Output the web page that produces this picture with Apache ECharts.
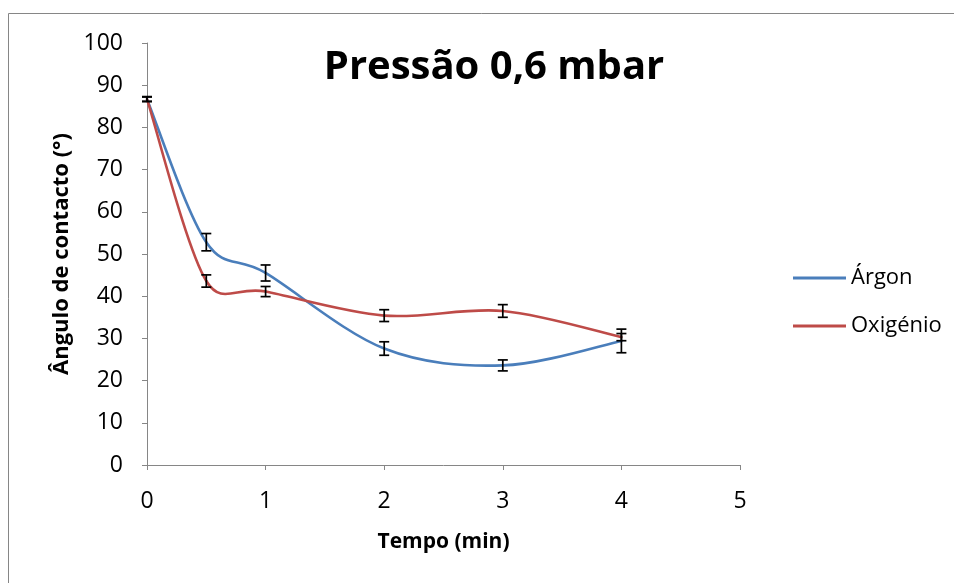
<!DOCTYPE html>
<html>
<head>
<meta charset="utf-8">
<script src="https://cdn.jsdelivr.net/npm/echarts@6/dist/echarts.min.js"></script>
<style>
  html, body { margin: 0; padding: 0; background: #fff; }
  #chart { width: 954px; height: 583px; }
</style>
</head>
<body>
<div id="chart"></div>
<script>
// Contact angle vs. plasma treatment time at 0.6 mbar
const tempo       = [0, 0.5, 1, 2, 3, 4];
const argon       = [86.7, 52.8, 45.5, 27.6, 23.6, 29.4];
const argonErr    = [0.6, 2.05, 1.9, 1.6, 1.3, 2.8];
const oxigenio    = [86.7, 43.6, 41.1, 35.4, 36.5, 30.3];
const oxigenioErr = [0.5, 1.45, 1.2, 1.4, 1.5, 0.85];
const xTicks = [0, 1, 2, 3, 4, 5];
const yTicks = [0, 10, 20, 30, 40, 50, 60, 70, 80, 90, 100];

const FONT = '"Open Sans", Lato, sans-serif';
const AXIS_COLOR = '#868686';
const BLUE = '#4A7EBB';
const RED = '#BE4B48';

function pairs(xs, ys) { return xs.map((x, i) => [x, ys[i]]); }
function errRows(xs, ys, es) { return xs.map((x, i) => [x, ys[i] - es[i], ys[i] + es[i]]); }

function errorBarItem(params, api) {
  const x = api.value(0);
  const lo = api.coord([x, api.value(1)]);
  const hi = api.coord([x, api.value(2)]);
  const half = 5;
  const style = { stroke: '#000', lineWidth: 1.7 };
  return {
    type: 'group',
    children: [
      { type: 'line', shape: { x1: lo[0], y1: lo[1], x2: hi[0], y2: hi[1] }, style },
      { type: 'line', shape: { x1: lo[0] - half, y1: lo[1], x2: lo[0] + half, y2: lo[1] }, style },
      { type: 'line', shape: { x1: hi[0] - half, y1: hi[1], x2: hi[0] + half, y2: hi[1] }, style }
    ]
  };
}

// Spreadsheet-style smoothed line: cubic Bezier segments whose tangent
// handles are (next - prev) / 6, limited to half of the segment length.
function smoothSegmentRenderer(xs, ys, color) {
  return function (params, api) {
    const i = params.dataIndex;
    if (i >= xs.length - 1) return null;
    const pt = k => {
      const j = Math.max(0, Math.min(xs.length - 1, k));
      return api.coord([xs[j], ys[j]]);
    };
    const p0 = pt(i - 1), p1 = pt(i), p2 = pt(i + 1), p3 = pt(i + 2);
    const dist = (a, b) => Math.hypot(b[0] - a[0], b[1] - a[1]);
    const d12 = dist(p1, p2);
    const d02 = dist(p0, p2);
    const d13 = dist(p1, p3);
    let f1 = 1 / 6, f2 = 1 / 6;
    if (d02 / 6 > d12 / 2 && d02 > 0) f1 = d12 / 2 / d02;
    if (d13 / 6 > d12 / 2 && d13 > 0) f2 = d12 / 2 / d13;
    const c1 = [p1[0] + (p2[0] - p0[0]) * f1, p1[1] + (p2[1] - p0[1]) * f1];
    const c2 = [p2[0] - (p3[0] - p1[0]) * f2, p2[1] - (p3[1] - p1[1]) * f2];
    return {
      type: 'bezierCurve',
      shape: { x1: p1[0], y1: p1[1], x2: p2[0], y2: p2[1], cpx1: c1[0], cpy1: c1[1], cpx2: c2[0], cpy2: c2[1] },
      style: { stroke: color, lineWidth: 2.6, fill: 'none', lineCap: 'round' }
    };
  };
}

const chart = echarts.init(document.getElementById('chart'), null, { renderer: 'canvas' });
chart.setOption({
  animation: false,
  backgroundColor: '#fff',
  graphic: [{
    type: 'rect',
    shape: { x: 8.5, y: 13.5, width: 1100, height: 800 },
    style: { fill: 'none', stroke: AXIS_COLOR, lineWidth: 1 },
    silent: true,
    z: -10
  }],
  title: {
    text: 'Pressão 0,6 mbar',
    left: 489,
    top: 43,
    textAlign: 'center',
    textStyle: { fontFamily: FONT, fontWeight: 'bold', fontSize: 40, color: '#000' }
  },
  legend: {
    orient: 'vertical',
    left: 788,
    top: 262,
    icon: 'rect',
    itemWidth: 53,
    itemHeight: 3,
    itemGap: 26,
    textStyle: { fontFamily: FONT, fontSize: 22, color: '#000' },
    data: ['Árgon', 'Oxigénio']
  },
  grid: { left: 147, top: 43, right: 214, bottom: 118, containLabel: false },
  xAxis: {
    type: 'value',
    min: xTicks[0],
    max: xTicks[xTicks.length - 1],
    interval: 1,
    name: 'Tempo (min)',
    nameLocation: 'middle',
    nameGap: 67,
    nameTextStyle: { fontFamily: FONT, fontWeight: 'bold', fontSize: 21, color: '#000' },
    axisLine: { lineStyle: { color: AXIS_COLOR, width: 1 } },
    axisTick: { inside: false, length: 5, lineStyle: { color: AXIS_COLOR } },
    axisLabel: { fontFamily: FONT, fontSize: 23, color: '#000', margin: 25 },
    splitLine: { show: false }
  },
  yAxis: {
    type: 'value',
    min: yTicks[0],
    max: yTicks[yTicks.length - 1],
    interval: 10,
    name: 'Ângulo de contacto (°)',
    nameLocation: 'middle',
    nameGap: 74,
    nameTextStyle: { fontFamily: FONT, fontWeight: 'bold', fontSize: 22, color: '#000' },
    axisLine: { show: true, lineStyle: { color: AXIS_COLOR, width: 1 } },
    axisTick: { show: true, inside: false, length: 5, lineStyle: { color: AXIS_COLOR } },
    axisLabel: { fontFamily: FONT, fontSize: 23, color: '#000', margin: 24 },
    splitLine: { show: false }
  },
  series: [
    {
      name: 'Árgon',
      type: 'custom',
      renderItem: smoothSegmentRenderer(tempo, argon, BLUE),
      data: pairs(tempo, argon),
      encode: { x: 0, y: 1 },
      itemStyle: { color: BLUE },
      silent: true,
      z: 2
    },
    {
      name: 'Oxigénio',
      type: 'custom',
      renderItem: smoothSegmentRenderer(tempo, oxigenio, RED),
      data: pairs(tempo, oxigenio),
      encode: { x: 0, y: 1 },
      itemStyle: { color: RED },
      silent: true,
      z: 2
    },
    {
      type: 'custom',
      renderItem: errorBarItem,
      data: errRows(tempo, argon, argonErr),
      encode: { x: 0, y: [1, 2] },
      silent: true,
      z: 3
    },
    {
      type: 'custom',
      renderItem: errorBarItem,
      data: errRows(tempo, oxigenio, oxigenioErr),
      encode: { x: 0, y: [1, 2] },
      silent: true,
      z: 3
    }
  ]
});
</script>
</body>
</html>
